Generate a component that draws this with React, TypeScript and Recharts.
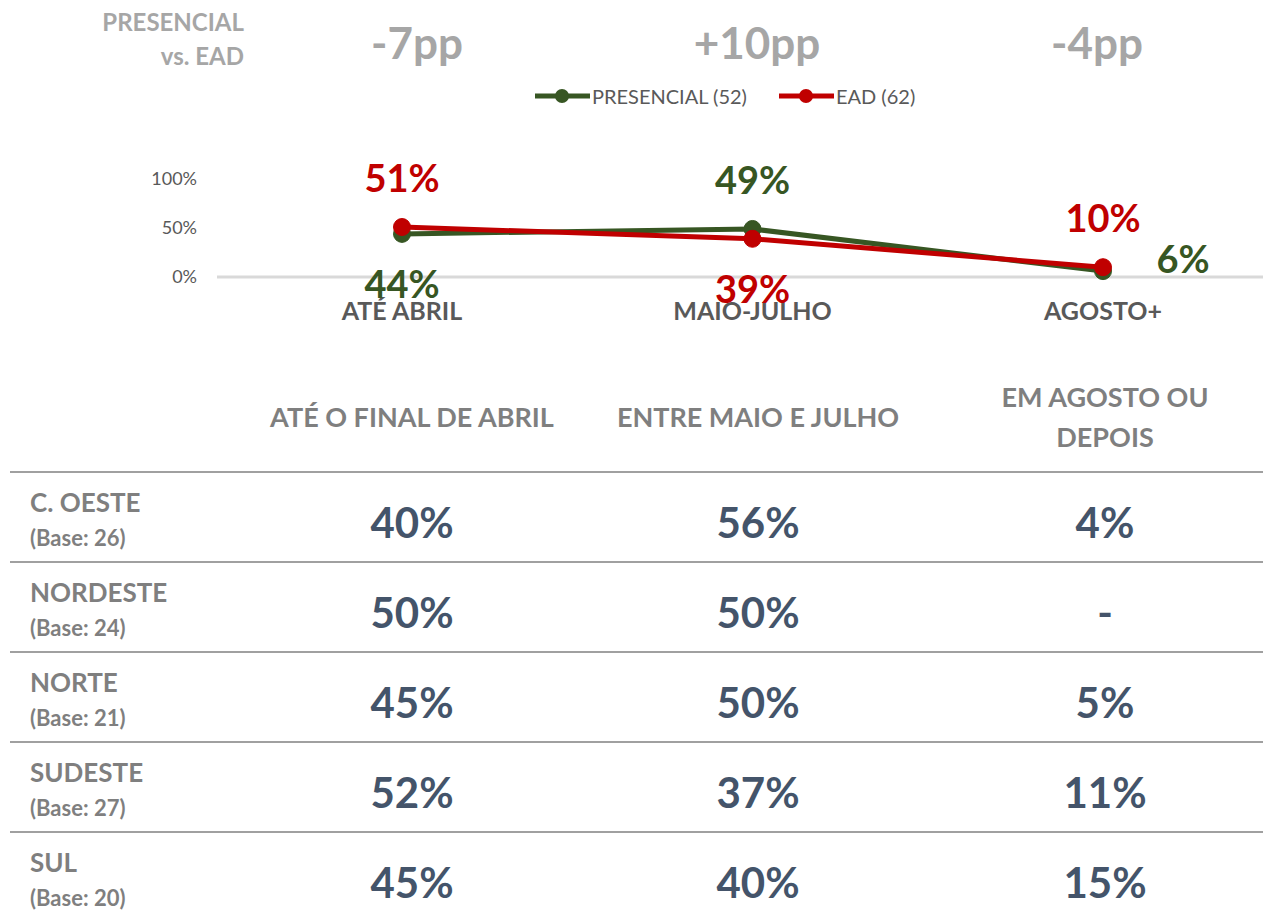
import React from "react";
import { LineChart, Line, XAxis, YAxis, ReferenceLine, LabelList, Legend } from "recharts";

// chart data
const periods = ["ATÉ ABRIL", "MAIO-JULHO", "AGOSTO+"];
const presencial = [44, 49, 6];
const ead = [51, 39, 10];
const yTicks = [0, 50, 100];
const diffs = ["-7pp", "+10pp", "-4pp"];
const seriesOrder = ["PRESENCIAL (52)", "EAD (62)"];

// table data
const tableHeaders = [["ATÉ O FINAL DE ABRIL"], ["ENTRE MAIO E JULHO"], ["EM AGOSTO OU", "DEPOIS"]];
const regions = ["C. OESTE", "NORDESTE", "NORTE", "SUDESTE", "SUL"];
const bases = [26, 24, 21, 27, 20];
const ateAbril = ["40%", "50%", "45%", "52%", "45%"];
const maioJulho = ["56%", "50%", "50%", "37%", "40%"];
const agosto = ["4%", "-", "5%", "11%", "15%"];

const GREEN = "#375623";
const RED = "#c00000";
const FONT = "Lato, 'Open Sans', sans-serif";

const data = periods.map((p, i) => ({ period: p, presencial: presencial[i], ead: ead[i] }));

// where each data label sits relative to its point
const greenPlace = ["below", "above", "right"];
const redPlace = ["above", "below", "above"];

const makeLabel = (color: string, places: string[]) => (props: any) => {
  const { x, y, value, index } = props;
  const place = places[index];
  let dx = 0;
  let dy = 0;
  if (place === "above") dy = -50;
  if (place === "below") dy = 49;
  if (place === "right") {
    dx = 80;
    dy = -13;
  }
  return (
    <text
      x={x + dx}
      y={y + dy}
      textAnchor="middle"
      dominantBaseline="central"
      fill={color}
      fontSize={38}
      fontWeight={700}
      fontFamily={FONT}
    >
      {value}%
    </text>
  );
};

const CategoryTick = (props: any) => {
  const { x, y, payload } = props;
  return (
    <text x={x} y={y} dy={43} textAnchor="middle" fill="#595959" fontSize={25} fontWeight={700} fontFamily={FONT}>
      {payload.value}
    </text>
  );
};

const LegendContent = (props: any) => {
  const items = [...(props.payload || [])].sort(
    (a: any, b: any) => seriesOrder.indexOf(a.value) - seriesOrder.indexOf(b.value)
  );
  return (
    <div style={{ display: "flex", alignItems: "center", paddingLeft: 535, fontFamily: FONT }}>
      {items.map((item: any, i: number) => (
        <div key={i} style={{ display: "flex", alignItems: "center", marginRight: 32 }}>
          <svg width={55} height={16}>
            <line x1={0} x2={55} y1={8} y2={8} stroke={item.color} strokeWidth={5} />
            <circle cx={27} cy={8} r={7} fill={item.color} />
          </svg>
          <span style={{ fontSize: 20, color: "#595959", marginLeft: 2 }}>{item.value}</span>
        </div>
      ))}
    </div>
  );
};

const colCenters = [412, 758, 1105];
const diffCenters = [417, 757, 1097];
const rowTops = [472, 562, 652, 742, 832];
const valueCols = [ateAbril, maioJulho, agosto];

export default function App() {
  return (
    <div
      style={{
        position: "absolute",
        left: 0,
        top: 0,
        width: 1263,
        height: 915,
        background: "#fff",
        overflow: "hidden",
        fontFamily: FONT,
      }}
    >
      <LineChart width={1263} height={340} data={data} margin={{ top: 179, right: 0, bottom: 23, left: 0 }}>
        <XAxis
          dataKey="period"
          axisLine={false}
          tickLine={false}
          tickSize={0}
          tickMargin={0}
          height={40}
          padding={{ left: 185, right: 160 }}
          tick={<CategoryTick />}
          interval={0}
        />
        <YAxis
          domain={[0, 100]}
          ticks={yTicks}
          width={217}
          axisLine={false}
          tickLine={false}
          tickSize={0}
          tickMargin={20}
          tickFormatter={(v) => `${v}%`}
          tick={{ fill: "#595959", fontSize: 18, fontFamily: FONT }}
        />
        <ReferenceLine y={0} stroke="#d9d9d9" strokeWidth={3} />
        <Legend
          layout="vertical"
          align="center"
          verticalAlign="middle"
          wrapperStyle={{ top: 84, left: 0, width: 1263 }}
          content={<LegendContent />}
        />
        <Line
          dataKey="presencial"
          name="PRESENCIAL (52)"
          stroke={GREEN}
          strokeWidth={5}
          dot={{ r: 8.5, fill: GREEN, stroke: GREEN, strokeWidth: 1 }}
          isAnimationActive={false}
        >
          <LabelList dataKey="presencial" content={makeLabel(GREEN, greenPlace)} />
        </Line>
        <Line
          dataKey="ead"
          name="EAD (62)"
          stroke={RED}
          strokeWidth={5}
          dot={{ r: 8.5, fill: RED, stroke: RED, strokeWidth: 1 }}
          isAnimationActive={false}
        >
          <LabelList dataKey="ead" content={makeLabel(RED, redPlace)} />
        </Line>
      </LineChart>

      {/* header annotations */}
      <div
        style={{
          position: "absolute",
          right: 1263 - 244,
          top: 5,
          textAlign: "right",
          color: "#a6a6a6",
          fontSize: 24,
          fontWeight: 700,
          lineHeight: "34px",
        }}
      >
        PRESENCIAL
        <br />
        vs. EAD
      </div>
      {diffs.map((d, i) => (
        <div
          key={d}
          style={{
            position: "absolute",
            left: diffCenters[i] - 100,
            width: 200,
            top: 15,
            textAlign: "center",
            color: "#a6a6a6",
            fontSize: 44,
            fontWeight: 700,
            lineHeight: "54px",
          }}
        >
          {d}
        </div>
      ))}

      {/* table */}
      {tableHeaders.map((lines, i) => (
        <div
          key={i}
          style={{
            position: "absolute",
            left: colCenters[i] - 173,
            width: 346,
            top: 417 - (lines.length * 40) / 2,
            textAlign: "center",
            color: "#7f7f7f",
            fontSize: 27,
            fontWeight: 700,
            lineHeight: "40px",
          }}
        >
          {lines.map((l) => (
            <div key={l}>{l}</div>
          ))}
        </div>
      ))}
      {rowTops.map((top, r) => (
        <React.Fragment key={regions[r]}>
          <div style={{ position: "absolute", left: 10, right: 0, top: top - 1, height: 2, background: "#a0a0a0" }} />
          <div
            style={{
              position: "absolute",
              left: 30,
              top: top + 14,
              color: "#7f7f7f",
              fontSize: 26,
              fontWeight: 700,
              lineHeight: "32px",
            }}
          >
            {regions[r]}
          </div>
          <div
            style={{
              position: "absolute",
              left: 30,
              top: top + 52,
              color: "#7f7f7f",
              fontSize: 22,
              fontWeight: 700,
              lineHeight: "28px",
            }}
          >
            (Base: {bases[r]})
          </div>
          {valueCols.map((col, c) => (
            <div
              key={c}
              style={{
                position: "absolute",
                left: colCenters[c] - 173,
                width: 346,
                top: top + 24,
                textAlign: "center",
                color: "#44546a",
                fontSize: 42,
                fontWeight: 700,
                lineHeight: "52px",
              }}
            >
              {col[r]}
            </div>
          ))}
        </React.Fragment>
      ))}
    </div>
  );
}
